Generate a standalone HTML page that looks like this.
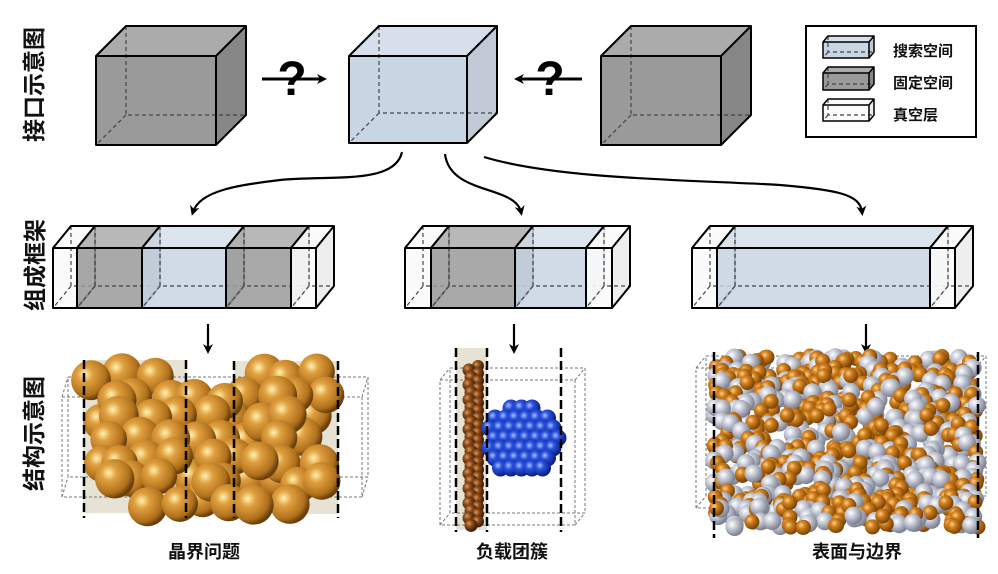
<!DOCTYPE html>
<html><head><meta charset="utf-8">
<style>
html,body{margin:0;padding:0;background:#fff;}
body{width:998px;height:574px;overflow:hidden;position:relative;font-family:"Liberation Sans","Noto Sans CJK SC",sans-serif;}
.vl{position:absolute;font-size:23px;font-weight:bold;color:#111;transform:rotate(-90deg);transform-origin:center;white-space:nowrap;}
.lb{position:absolute;font-size:18px;font-weight:bold;color:#111;white-space:nowrap;}
.lg{position:absolute;font-size:15px;font-weight:bold;color:#111;}
</style></head><body>
<svg id="s" width="998" height="574" xmlns="http://www.w3.org/2000/svg" style="position:absolute;left:0;top:0">
<defs>
<radialGradient id="gold" cx="35%" cy="35%" r="65%"><stop offset="0" stop-color="#fff2b0"/><stop offset="0.3" stop-color="#e0a040"/><stop offset="0.8" stop-color="#b0701c"/><stop offset="1" stop-color="#6a400c"/></radialGradient>
<radialGradient id="org" cx="35%" cy="35%" r="65%"><stop offset="0" stop-color="#ffd090"/><stop offset="0.35" stop-color="#d4821e"/><stop offset="1" stop-color="#7a4408"/></radialGradient>
<radialGradient id="sil" cx="35%" cy="35%" r="65%"><stop offset="0" stop-color="#ffffff"/><stop offset="0.4" stop-color="#c8ccd8"/><stop offset="1" stop-color="#7c8090"/></radialGradient>
<radialGradient id="blu" cx="35%" cy="35%" r="65%"><stop offset="0" stop-color="#a8c0ff"/><stop offset="0.35" stop-color="#2a52e0"/><stop offset="1" stop-color="#0c1e80"/></radialGradient>
<radialGradient id="brn" cx="35%" cy="35%" r="65%"><stop offset="0" stop-color="#d89a60"/><stop offset="0.4" stop-color="#8a4a18"/><stop offset="1" stop-color="#3a1a04"/></radialGradient>
<marker id="ah" markerWidth="10" markerHeight="10" refX="6" refY="5" orient="auto" markerUnits="userSpaceOnUse"><path d="M0,0 L10,5 L0,10 L3,5 Z" fill="#000"/></marker>
</defs>
<g id="g"></g>
</svg>
<div class="vl" style="left:-23px;top:70px;width:110px;text-align:center;">接口示意图</div>
<div class="vl" style="left:-12px;top:249px;width:90px;text-align:center;">组成框架</div>
<div class="vl" style="left:-23px;top:419px;width:110px;text-align:center;">结构示意图</div>
<div class="lb" style="left:168px;top:538px;">晶界问题</div>
<div class="lb" style="left:476px;top:538px;">负载团簇</div>
<div class="lb" style="left:812px;top:538px;">表面与边界</div>
<div class="lg" style="left:893px;top:40px;">搜索空间</div>
<div class="lg" style="left:893px;top:72px;">固定空间</div>
<div class="lg" style="left:893px;top:104px;">真空层</div>
<script>
var g=document.getElementById('g'),h='';
function P(pts,f,extra){return '<polygon points="'+pts.map(p=>p.join(',')).join(' ')+'" fill="'+f+'" '+(extra||'')+'/>';}
var C={gray:['#9a9a9a','#ababab','#878787'],blue:['#c8d5e3','#d6dfea','#c2cad8'],vac:['#fbfbfb','#fbfbfb','#ececec']};
function box(x,y,w,hh,dx,dy,c,sw,op){
 op=op||1;var k=C[c];
 var s='';
 s+=P([[x,y],[x+w,y],[x+w+dx,y+dy],[x+dx,y+dy]],k[1],'fill-opacity="'+op+'"');
 s+=P([[x+w,y],[x+w+dx,y+dy],[x+w+dx,y+hh+dy],[x+w,y+hh]],k[2],'fill-opacity="'+op+'"');
 s+=P([[x,y],[x+w,y],[x+w,y+hh],[x,y+hh]],k[0],'fill-opacity="'+op+'"');
 s+='<path d="M'+(x+dx)+','+(y+dy)+' V'+(y+hh+dy)+' H'+(x+w+dx)+' M'+(x+dx)+','+(y+hh+dy)+' L'+x+','+(y+hh)+'" stroke="#444" stroke-width="1.2" stroke-dasharray="4,3" fill="none"/>';
 s+='<path d="M'+x+','+y+' H'+(x+w)+' V'+(y+hh)+' H'+x+' Z M'+x+','+y+' L'+(x+dx)+','+(y+dy)+' H'+(x+w+dx)+' V'+(y+hh+dy)+' L'+(x+w)+','+(y+hh)+' M'+(x+w)+','+y+' L'+(x+w+dx)+','+(y+dy)+'" stroke="#000" stroke-width="'+(sw||2)+'" fill="none" stroke-linejoin="round"/>';
 return s;
}
h+=box(96,56,120,89,30,-30,'gray');
h+=box(349,56,118,87,30,-30,'blue');
h+=box(601,56,120,89,30,-30,'gray');
function qa(x1,x2,y,qx){return '<line x1="'+x1+'" y1="'+y+'" x2="'+x2+'" y2="'+y+'" stroke="#000" stroke-width="3" marker-end="url(#ah)"/><text x="'+qx+'" y="'+(y+16)+'" font-family="Liberation Sans" font-weight="bold" font-size="48" text-anchor="middle">?</text>';}
h+=qa(262,323,79,292);
h+=qa(582,518,79,550);
h+='<path d="M402,152 C395,185 330,175 280,180 C240,185 200,190 193,212" stroke="#000" stroke-width="2.2" fill="none" marker-end="url(#ah)"/>';
h+='<path d="M445,154 C450,195 515,185 521,212" stroke="#000" stroke-width="2.2" fill="none" marker-end="url(#ah)"/>';
h+='<path d="M484,157 C560,180 700,180 780,185 C840,190 860,195 862,212" stroke="#000" stroke-width="2.2" fill="none" marker-end="url(#ah)"/>';
h+='<rect x="806" y="26" width="170" height="111" fill="#fff" stroke="#000" stroke-width="2"/>';
h+=box(823,42,46,16,5,-6,'blue',1.5);
h+=box(823,73,46,17,5,-6,'gray',1.5);
h+=box(823,105,46,16,5,-6,'vac',1.5);
var dx=18,dy=-22,T=248,H=60;
function seg(list){list.forEach(s=>{h+=box(s[0],T,s[1]-s[0],H,dx,dy,s[2],2,s[2]=='vac'?0.9:0.85);});}
seg([[53,77,'vac'],[77,142,'gray'],[142,226,'blue'],[226,291,'gray'],[291,316,'vac']]);
seg([[405,431,'vac'],[431,515,'gray'],[515,586,'blue'],[586,612,'vac']]);
seg([[692,717,'vac'],[717,930,'blue'],[930,955,'vac']]);
[[208],[514],[866]].forEach(a=>{h+='<line x1="'+a[0]+'" y1="324" x2="'+a[0]+'" y2="350" stroke="#000" stroke-width="2.2" marker-end="url(#ah)"/>';});
var sd=7;function R(){sd=(sd*16807)%2147483647;return sd/2147483647;}
function dashbox(x,y,w,hh,dx,dy){return '<path d="M'+x+','+y+' h'+w+' v'+hh+' h'+(-w)+' Z M'+(x+dx)+','+(y+dy)+' h'+w+' v'+hh+' h'+(-w)+' Z M'+x+','+y+' l'+dx+','+dy+' M'+(x+w)+','+y+' l'+dx+','+dy+' M'+x+','+(y+hh)+' l'+dx+','+dy+' M'+(x+w)+','+(y+hh)+' l'+dx+','+dy+'" stroke="#777" stroke-width="1" stroke-dasharray="3,2" fill="none"/>';}
function sph(x,y,r,f){return '<circle cx="'+x.toFixed(1)+'" cy="'+y.toFixed(1)+'" r="'+r+'" fill="url(#'+f+')"/>';}
function vd(x,y1,y2){return '<line x1="'+x+'" y1="'+y1+'" x2="'+x+'" y2="'+y2+'" stroke="#000" stroke-width="2.5" stroke-dasharray="9,4"/>';}
// left structure
h+='<rect x="83" y="360" width="104" height="153" fill="#e6e2d4"/><rect x="234" y="361" width="104" height="153" fill="#e6e2d4"/>';
h+=dashbox(62,397,300,100,6,-20);
var L=[];
for(var row=0;row<7;row++){for(var col=0;col<10;col++){var x=98+col*27+(row%2)*13+(R()-0.5)*14,y=376+row*21+(R()-0.5)*10;
 var mid=Math.abs(x-211);if(row==0&&mid<50)continue;if(row>=5&&(x<105||x>325))continue;if(row==6&&(x<140||x>300))continue;if(x>328)continue;L.push([x,y]);}}
L.push([211,482]);
L.sort((a,b)=>(a[1]-b[1])*0.3+(R()-0.5)*20);
L.forEach(p=>{h+=sph(p[0],p[1],18+R()*2,'gold');});
h+=vd(84,360,518)+vd(186,360,518)+vd(234,361,518)+vd(338,361,518);
// middle structure
h+='<rect x="456" y="348" width="31" height="182" fill="#e6e2d4"/>';
h+=dashbox(440,380,135,145,10,-12);
for(var i=0;i<22;i+=1){var y=370+i*7.4;h+=sph(478,y-4,6,'brn');h+=sph(469+(i%2)*2,y,6.5,'brn');}
var B=[];for(var a=0;a<7;a++)for(var b=0;b<7;b++){var x=490+b*10.5+(a%2)*5,y=408+a*10;var dd=Math.hypot(x-522,y-440);if(dd<38)B.push([x,y]);}
B.forEach(p=>{h+=sph(p[0],p[1],8.5,'blu');});
h+=vd(456,348,532)+vd(487,348,532)+vd(561,348,532);
// right structure
h+=dashbox(696,368,280,140,10,-12);
var Q=[];for(var i=0;i<850;i++){Q.push([714+R()*264,356+R()*172,R()<0.6]);}
Q.sort((a,b)=>a[1]-b[1]+(R()-0.5)*30);
Q.forEach(p=>{h+=p[2]?sph(p[0],p[1],7.5,'org'):sph(p[0],p[1],9,'sil');});
h+=vd(714,352,538)+vd(978,352,538);
g.innerHTML=h;
</script>
</body></html>
